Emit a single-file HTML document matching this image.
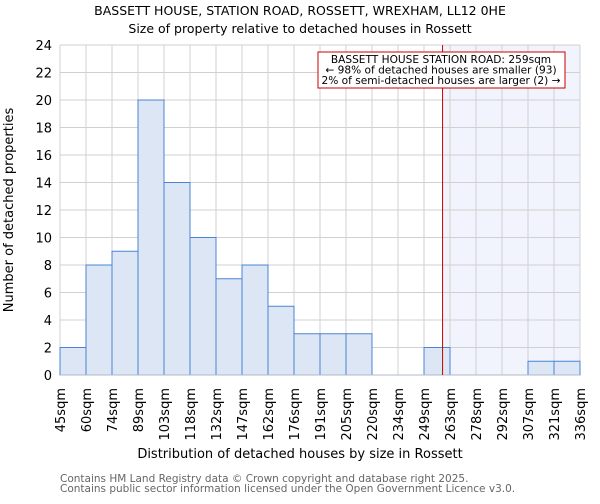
<!DOCTYPE html>
<html><head><meta charset="utf-8"><style>
body{margin:0;background:#fff;font-family:"DejaVu Sans","Liberation Sans",sans-serif;}
svg text{font-family:"DejaVu Sans","Liberation Sans",sans-serif;}
</style></head><body>
<svg id="chart" width="600" height="500">
<text x="300" y="15" text-anchor="middle" font-size="12.5">BASSETT HOUSE, STATION ROAD, ROSSETT, WREXHAM, LL12 0HE</text>
<text x="300" y="33" text-anchor="middle" font-size="12.5">Size of property relative to detached houses in Rossett</text>
<g id="plot"></g>
<text x="300" y="458" text-anchor="middle" font-size="13">Distribution of detached houses by size in Rossett</text>
<text transform="translate(13,210) rotate(-90)" text-anchor="middle" font-size="13">Number of detached properties</text>
<text x="60" y="482" font-size="10.5" fill="#666">Contains HM Land Registry data © Crown copyright and database right 2025.</text>
<text x="60" y="492" font-size="10.5" fill="#666">Contains public sector information licensed under the Open Government Licence v3.0.</text>
</svg>
<script>
const categories=["45sqm","60sqm","74sqm","89sqm","103sqm","118sqm","132sqm","147sqm","162sqm","176sqm","191sqm","205sqm","220sqm","234sqm","249sqm","263sqm","278sqm","292sqm","307sqm","321sqm","336sqm"];
const counts=[2,8,9,20,14,10,7,8,5,3,3,3,0,0,2,0,0,0,1,1];
const yTicks=[0,2,4,6,8,10,12,14,16,18,20,22,24];
const markerBin=14.714;
const NS="http://www.w3.org/2000/svg";
const L=60,R=580,T=45,B=375,yMax=24;
const nb=counts.length;
const bw=(R-L)/nb;
const xs=i=>L+i*bw;
const ys=v=>B-(v/yMax)*(B-T);
const g=document.getElementById('plot');
function mk(tag,attrs,parent){const e=document.createElementNS(NS,tag);for(const k in attrs)e.setAttribute(k,attrs[k]);(parent||g).appendChild(e);return e;}
const mx=xs(markerBin);
const sh=mk('rect',{x:mx,y:T,width:R-mx,height:B-T,fill:'#f1f4fc'});


yTicks.forEach(v=>{
 const l=mk('line',{x1:L,x2:R,y1:ys(v),y2:ys(v),stroke:'#d0d0d0','stroke-width':1});
 
 
 const t=mk('text',{x:L-8,y:ys(v)+5,'text-anchor':'end','font-size':13});
 t.textContent=v;
 
 
});
categories.forEach((c,i)=>{
 const l=mk('line',{x1:xs(i),x2:xs(i),y1:T,y2:B,stroke:'#d0d0d0','stroke-width':1});
 
 
 const t=mk('text',{transform:`translate(${xs(i)+5},${B+13}) rotate(-90)`,'text-anchor':'end','font-size':13});
 t.textContent=c;
 
 
});
counts.forEach((v,i)=>{
 if(v<=0)return;
 const r=mk('rect',{x:xs(i),y:ys(v),width:bw,height:B-ys(v),fill:'#dce6f4',stroke:'#4a84d4','stroke-width':1});
 
 
});
const ax=mk('line',{x1:L,x2:R,y1:B,y2:B,stroke:'#b0b8c8','stroke-width':1});


const ml=mk('line',{x1:mx,x2:mx,y1:T,y2:B,stroke:'#cc0000','stroke-width':1});


const box=mk('rect',{x:318,y:52,width:247,height:36,fill:'#fff',stroke:'#cc0000','stroke-width':1});


["BASSETT HOUSE STATION ROAD: 259sqm","← 98% of detached houses are smaller (93)","2% of semi-detached houses are larger (2) →"].forEach((s,k)=>{
 const t=mk('text',{x:441,y:63+k*10.5,'text-anchor':'middle','font-size':10.6});
 t.textContent=s;
 
 
});
</script>
</body></html>
